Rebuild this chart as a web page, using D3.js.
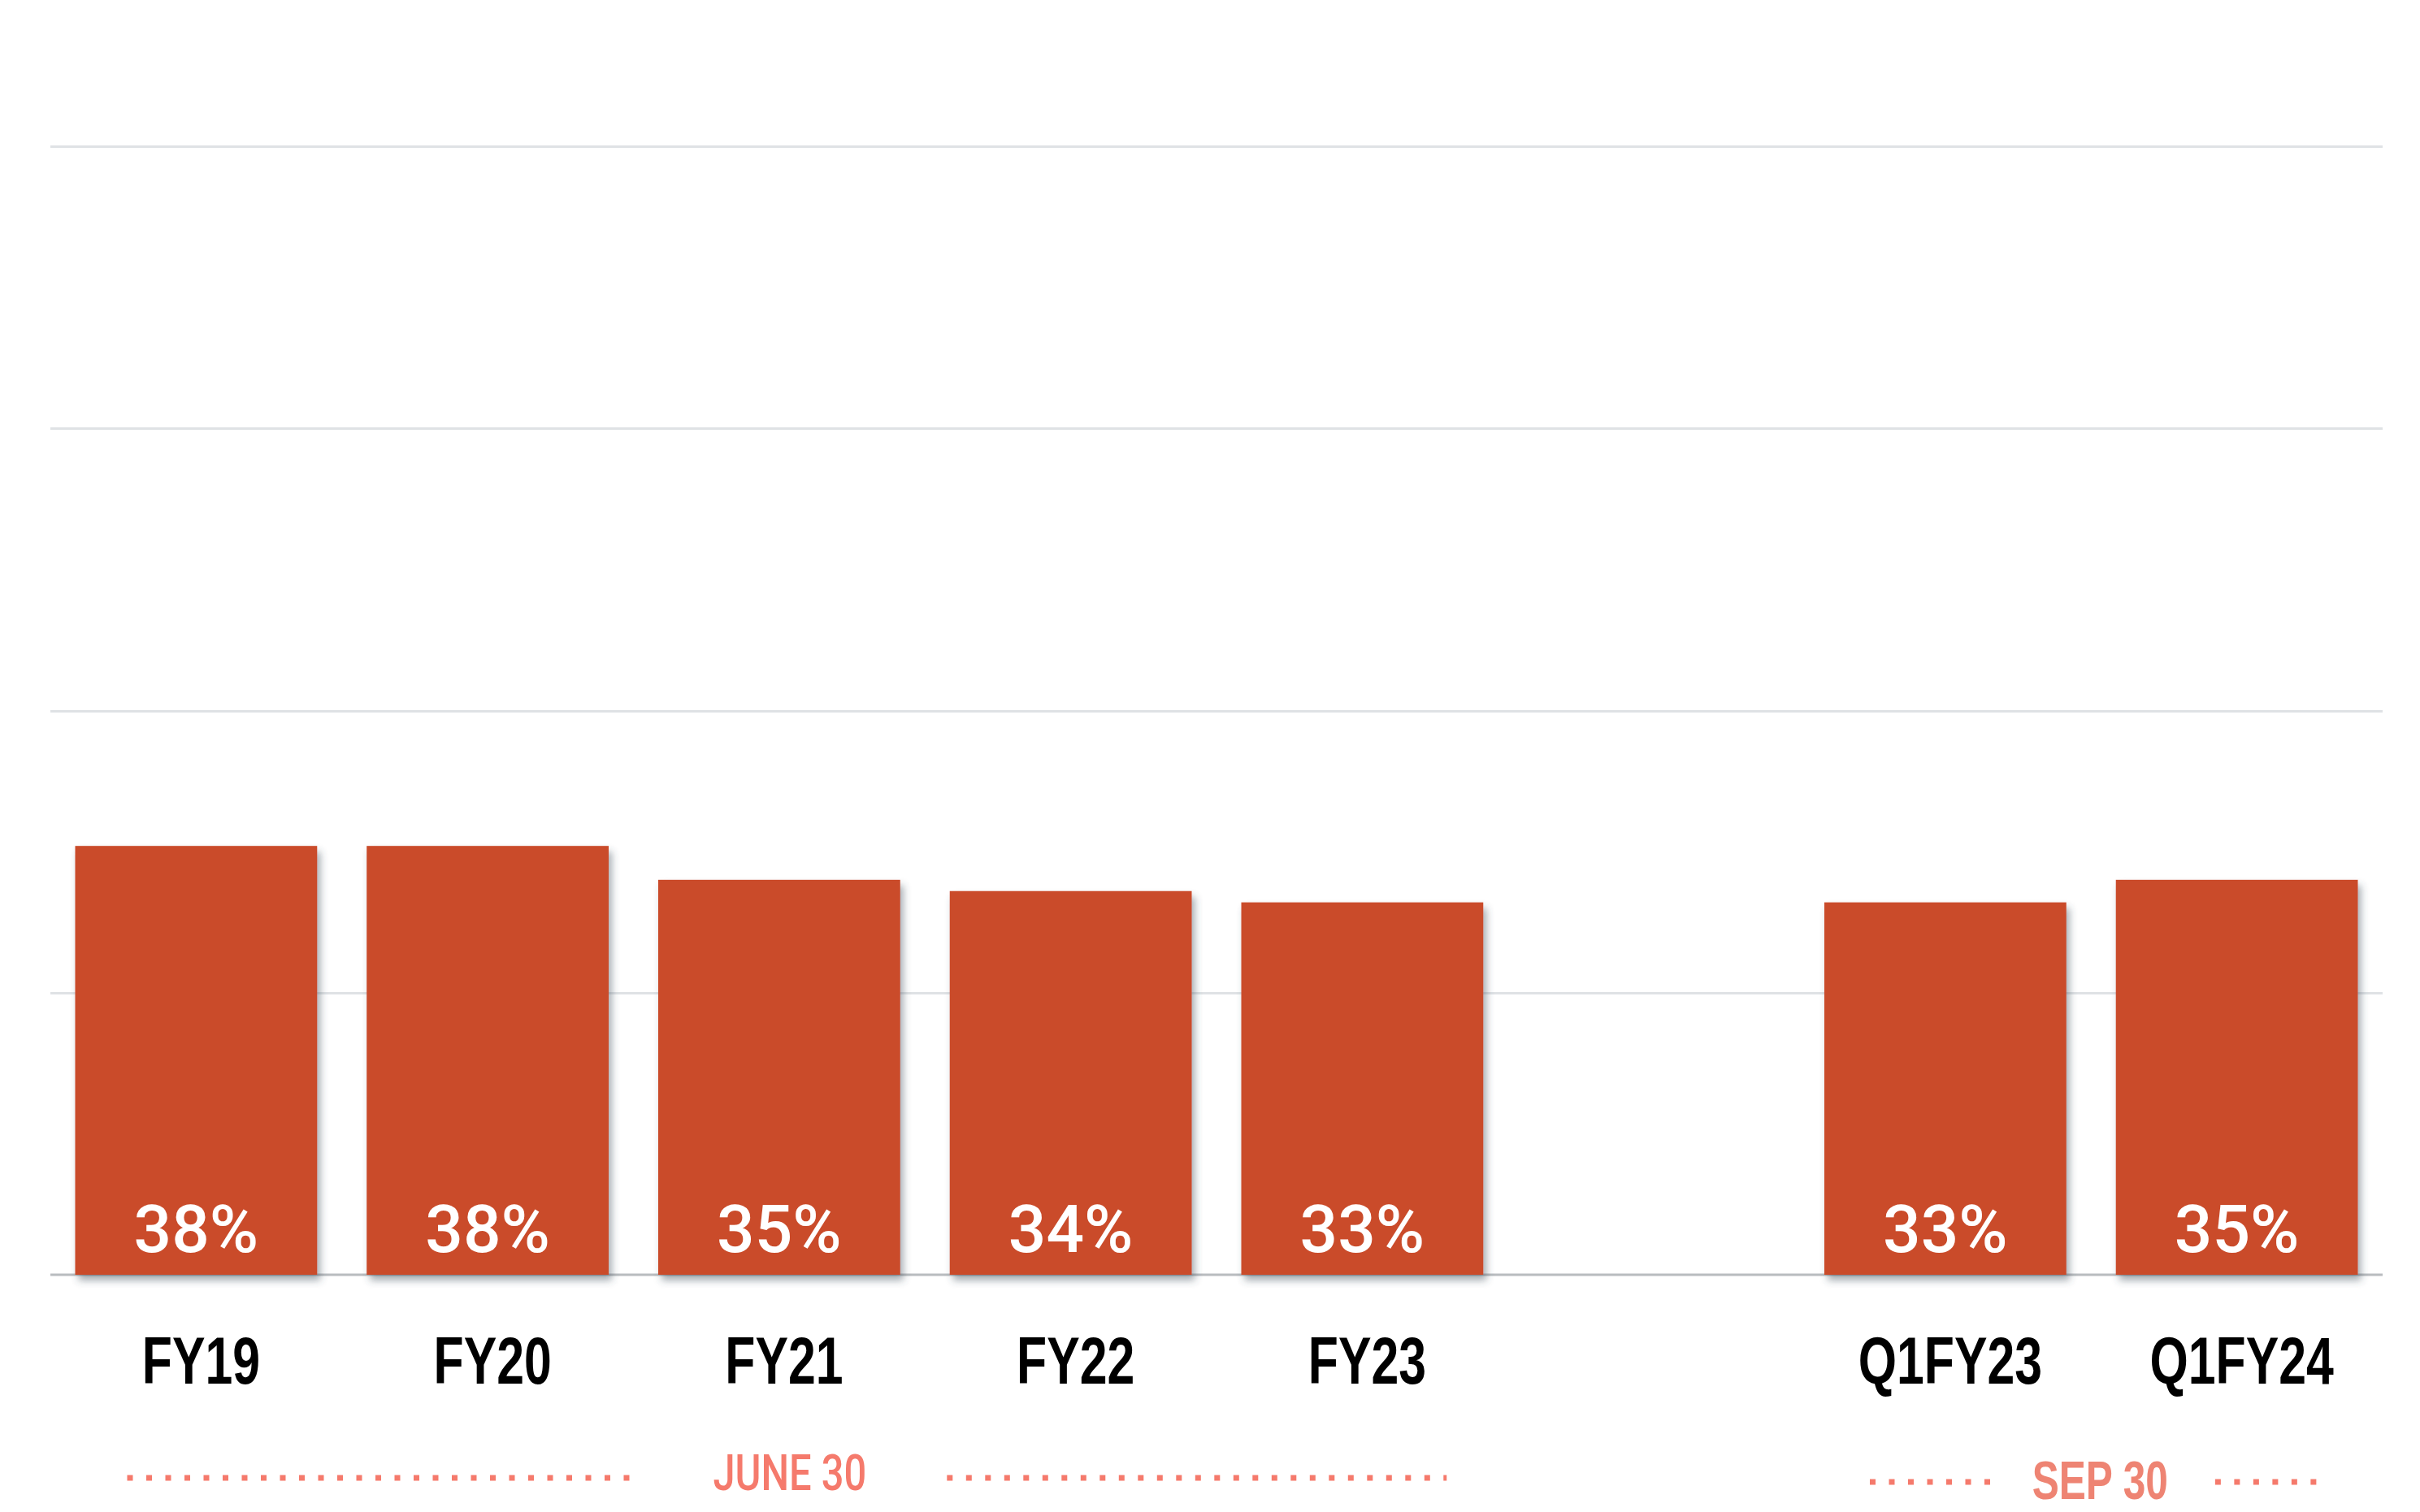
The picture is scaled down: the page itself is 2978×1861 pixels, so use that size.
<!DOCTYPE html>
<html>
  <head>
    <!-- load the d3 javascript library -->
    <script src="https://d3js.org/d3.v7.min.js"></script>

    <!-- css styles -->
    <style>
    body {
      margin: 0;
      background: #ffffff;
    }

    .grid line {
      stroke: #dfe2e5;
      stroke-width: 3;
      shape-rendering: crispEdges;
    }

    .grid path {
      display: none;
    }

    .xaxis path {
      stroke: #b9bcbf;
      stroke-width: 3;
    }

    .xaxis line {
      display: none;
    }

    .xaxis text {
      font-family: "Liberation Sans", Arial, sans-serif;
      font-weight: bold;
      font-size: 81px;
      fill: #000000;
    }

    .value {
      font-family: Roboto, sans-serif;
      font-weight: 500;
      font-size: 82px;
      fill: #ffffff;
    }
    </style>
  </head>
  <body>
    <script>

    // chart data
    var categories = ["FY19", "FY20", "FY21", "FY22", "FY23", "", "Q1FY23", "Q1FY24"];
    var values = [38, 38, 35, 34, 33, null, 33, 35];
    var yTicks = [0, 25, 50, 75, 100];

    // period annotations below the axis
    var periodLabels = ["JUNE 30", "SEP 30"];
    var periodFrom = ["FY19", "Q1FY23"];
    var periodTo = ["FY23", "Q1FY24"];

    // svg size
    var w = 2978;
    var h = 1861;
    var barColor = "#ca4c2c";

    var svg = d3.select("body")
      .append("svg")
      .attr("width", w)
      .attr("height", h);

    // squeeze a text element horizontally (fake condensed face)
    function condense(sel, factor) {
      sel.each(function() {
        var len = this.getComputedTextLength();
        d3.select(this)
          .attr("textLength", len * factor)
          .attr("lengthAdjust", "spacingAndGlyphs");
      });
    }

    // soft drop shadow under the bars
    var filter = svg.append("defs")
      .append("filter")
      .attr("id", "shadow")
      .attr("x", "-10%")
      .attr("y", "-10%")
      .attr("width", "130%")
      .attr("height", "130%");
    filter.append("feDropShadow")
      .attr("dx", 4)
      .attr("dy", 7)
      .attr("stdDeviation", 5)
      .attr("flood-color", "#3b4a58")
      .attr("flood-opacity", 0.45);

    // scales
    var xScale = d3.scaleBand()
      .domain(categories)
      .range([62, 2932])
      .paddingInner(0.17)
      .paddingOuter(0.085);

    var yScale = d3.scaleLinear()
      .domain([0, 100])
      .range([1569, 180]);

    // horizontal grid lines
    svg.append("g")
      .attr("class", "grid")
      .attr("transform", "translate(62,0)")
      .call(d3.axisLeft(yScale)
        .tickValues(yTicks.filter(function(d) { return d > 0; }))
        .tickSize(-(2932 - 62))
        .tickFormat(""));

    // x axis (baseline + category labels)
    var xAxis = svg.append("g")
      .attr("class", "xaxis")
      .attr("transform", "translate(0," + yScale(0) + ")")
      .call(d3.axisBottom(xScale).tickSizeOuter(0).tickSizeInner(0).tickPadding(76));
    xAxis.select(".domain").attr("d", "M62,0H2932");
    xAxis.selectAll("text")
      .attr("dy", "0.71em")
      .attr("dx", 6)
      .call(condense, 0.75);

    // bars
    var barData = categories
      .map(function(c, i) { return { cat: c, val: values[i] }; })
      .filter(function(d) { return d.val !== null; });

    svg.append("g")
      .selectAll("rect")
      .data(barData)
      .enter()
      .append("rect")
      .attr("x", function(d) { return xScale(d.cat); })
      .attr("y", function(d) { return yScale(d.val); })
      .attr("width", xScale.bandwidth())
      .attr("height", function(d) { return yScale(0) - yScale(d.val); })
      .attr("fill", barColor)
      .attr("filter", "url(#shadow)");

    // value labels inside the bars
    svg.append("g")
      .selectAll("text")
      .data(barData)
      .enter()
      .append("text")
      .attr("class", "value")
      .attr("x", function(d) { return xScale(d.cat) + xScale.bandwidth() / 2; })
      .attr("y", yScale(0) - 28)
      .attr("text-anchor", "middle")
      .text(function(d) { return d.val + "%"; });

    // period labels with dotted leaders
    var gaps = [[95, 99], [45, 58]];
    var insets = [[64, 45], [56, 45]];
    var squeeze = [0.8, 0.74];
    periodLabels.forEach(function(label, i) {
      var x0 = xScale(periodFrom[i]);
      var x1 = xScale(periodTo[i]) + xScale.bandwidth();
      var cx = (x0 + x1) / 2 + (i === 0 ? 13 : 11);

      var t = svg.append("text")
        .attr("x", cx)
        .attr("y", i === 0 ? 1834 : 1845)
        .attr("text-anchor", "middle")
        .attr("font-family", i === 0 ? "Roboto, sans-serif" : "'Liberation Sans', Arial, sans-serif")
        .attr("fill", i === 0 ? "#f57a6c" : "#ee8473")
        .attr("font-size", i === 0 ? 61 : 67)
        .attr("font-weight", i === 0 ? 500 : "bold")
        .text(label);

      var half = t.node().getComputedTextLength() * squeeze[i] / 2;
      t.call(condense, squeeze[i]);

      var dotY = i === 0 ? 1819 : 1824;
      var segs = [[x0 + insets[i][0], cx - half - gaps[i][0]],
                  [cx + half + gaps[i][1], x1 - insets[i][1]]];

      svg.append("g")
        .selectAll("line")
        .data(segs)
        .enter()
        .append("line")
        .attr("x1", function(d) { return d[0]; })
        .attr("x2", function(d) { return d[1]; })
        .attr("y1", dotY)
        .attr("y2", dotY)
        .attr("stroke", "#f57a6c")
        .attr("stroke-width", 7)
        .attr("stroke-dasharray", "7 16.5");
    });

    </script>
  </body>
</html>
